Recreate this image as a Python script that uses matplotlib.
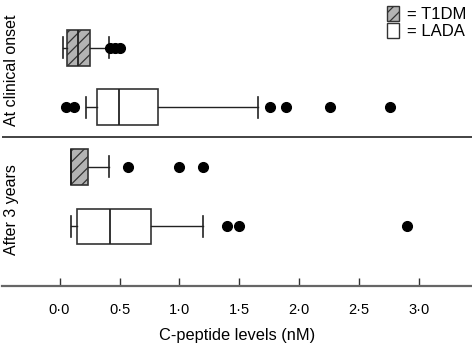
import matplotlib
matplotlib.use("Agg")
import matplotlib.pyplot as plt
from matplotlib.patches import Patch
from matplotlib.transforms import blended_transform_factory

plt.rcParams["font.family"] = ["Liberation Sans", "DejaVu Sans"]
plt.rcParams["hatch.linewidth"] = 0.9

# box order, bottom to top
GROUPS = ["LADA 3y", "T1DM 3y", "LADA onset", "T1DM onset"]
POSITIONS = [1, 2, 3, 4]
IS_T1DM = [False, True, False, True]

WHISK_LO = [0.093, 0.093, 0.22, 0.032]
Q1 = [0.146, 0.093, 0.315, 0.065]
MEDIAN = [0.424, 0.093, 0.493, 0.157]
Q3 = [0.76, 0.235, 0.823, 0.254]
WHISK_HI = [1.196, 0.415, 1.657, 0.41]
OUTLIERS = [
    [1.40, 1.50, 2.90],
    [0.568, 1.0, 1.196],
    [0.057, 0.12, 1.754, 1.885, 2.254, 2.757],
    [0.42, 0.46, 0.50],
]

XTICKS = [0.0, 0.5, 1.0, 1.5, 2.0, 2.5, 3.0]
PERIOD_LABELS = ["After 3 years", "At clinical onset"]
PERIOD_CENTERS = [1.28, 3.62]

stats = []
for i in range(len(GROUPS)):
    stats.append({
        "label": GROUPS[i],
        "whislo": WHISK_LO[i], "q1": Q1[i], "med": MEDIAN[i],
        "q3": Q3[i], "whishi": WHISK_HI[i], "fliers": OUTLIERS[i],
    })

fig = plt.figure(figsize=(4.72, 3.45), dpi=100)
ax = fig.add_axes([2 / 472, 59 / 345, 470 / 472, 286 / 345])

bp = ax.bxp(stats, positions=POSITIONS, vert=False, widths=0.6,
            capwidths=0.35, patch_artist=True, manage_ticks=False,
            boxprops=dict(edgecolor="#333333", linewidth=1.2),
            medianprops=dict(color="#222222", linewidth=1.3),
            whiskerprops=dict(color="#222222", linewidth=1.0),
            capprops=dict(color="#222222", linewidth=1.2),
            flierprops=dict(marker="o", markerfacecolor="black",
                            markeredgecolor="black", markersize=7))

for box, t1 in zip(bp["boxes"], IS_T1DM):
    if t1:
        box.set_facecolor("#b3b3b3")
        box.set_hatch("///")
    else:
        box.set_facecolor("white")

ax.set_xlim(-0.48, 3.44)
ax.set_ylim(0, 4.8)
ax.axhline(2.5, color="#222222", linewidth=1.2)

for s in ["top", "right", "left"]:
    ax.spines[s].set_visible(False)
ax.spines["bottom"].set_color("#666666")
ax.spines["bottom"].set_linewidth(1.6)

ax.set_yticks([])
ax.set_xticks(XTICKS)
ax.set_xticklabels([f"{v:.1f}".replace(".", "\u00b7") for v in XTICKS])
ax.tick_params(axis="x", direction="in", length=6, width=1.0,
               color="#333333", pad=12, labelsize=10.5)
ax.set_xlabel("C-peptide levels (nM)", fontsize=11.8, labelpad=8)

trans = blended_transform_factory(ax.transAxes, ax.transData)
for label, yc in zip(PERIOD_LABELS, PERIOD_CENTERS):
    ax.text(0.02, yc, label, rotation=90, ha="center", va="center",
            fontsize=11.5, transform=trans)

handles = [
    Patch(facecolor="#b3b3b3", edgecolor="#333333", hatch="///"),
    Patch(facecolor="white", edgecolor="#333333"),
]
ax.legend(handles, ["= T1DM", "= LADA"], loc="upper right",
          frameon=False, handlelength=0.75, handleheight=1.0,
          handletextpad=0.45, labelspacing=0.08, fontsize=12,
          borderaxespad=0.0, borderpad=0.35, bbox_to_anchor=(1.0, 1.0))

fig.savefig("out.png", dpi=100)
